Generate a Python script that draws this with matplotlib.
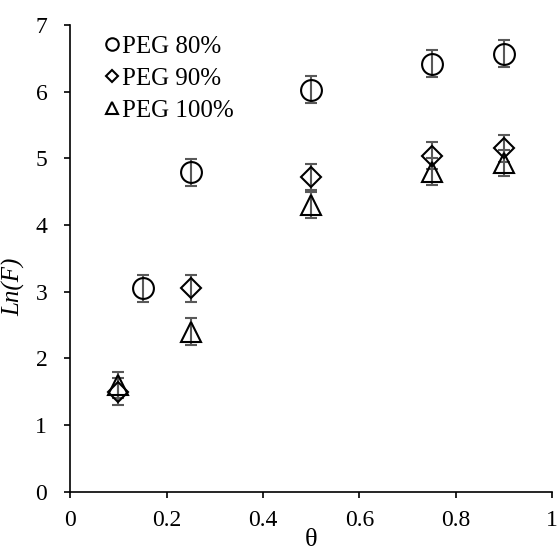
import matplotlib
matplotlib.use("Agg")
import matplotlib.pyplot as plt
from matplotlib import font_manager

# pick a Times-like serif that is installed
installed = {f.name for f in font_manager.fontManager.ttflist}
serif = next((n for n in ["Liberation Serif", "Tinos", "Times New Roman", "Nimbus Roman",
                          "TeX Gyre Termes", "DejaVu Serif"] if n in installed), "DejaVu Serif")
plt.rcParams["font.family"] = [serif, "DejaVu Serif"]

# data
theta_80 = [0.15, 0.25, 0.5, 0.75, 0.9]
lnf_80 = [3.05, 4.79, 6.03, 6.42, 6.57]
err_80 = [0.2, 0.2, 0.2, 0.2, 0.2]

theta_90 = [0.1, 0.25, 0.5, 0.75, 0.9]
lnf_90 = [1.5, 3.05, 4.72, 5.04, 5.15]
err_90 = [0.2, 0.2, 0.2, 0.2, 0.2]

theta_100 = [0.1, 0.25, 0.5, 0.75, 0.9]
lnf_100 = [1.6, 2.4, 4.3, 4.8, 4.93]
err_100 = [0.2, 0.2, 0.2, 0.2, 0.2]

labels = ["PEG 80%", "PEG 90%", "PEG 100%"]

fig = plt.figure(figsize=(5.57, 5.54), dpi=100)
ax = fig.add_axes([0.126, 0.1125, 0.8656, 0.8424])

series = [
    (theta_80, lnf_80, err_80, "o", 15),
    (theta_90, lnf_90, err_90, "D", 10.5),
    (theta_100, lnf_100, err_100, "^", 15),
]
handles = []
for (x, y, e, m, ms), lab in zip(series, labels):
    ax.errorbar(x, y, yerr=e, fmt="none", ecolor="#595959", elinewidth=1.5,
                capsize=4.3, capthick=1.5, zorder=2)
    h, = ax.plot(x, y, linestyle="none", marker=m, markersize=ms,
                 markerfacecolor="none", markeredgecolor="black",
                 markeredgewidth=1.5, zorder=3, label=lab)
    handles.append(h)

leg = ax.legend(handles=handles, loc="upper left", bbox_to_anchor=(0.04, 1.01),
                frameon=False, fontsize=18, handlelength=0.6, handletextpad=0.1,
                labelspacing=0.38, borderaxespad=0.2, markerscale=0.6)

ax.set_xlim(0, 1)
ax.set_ylim(0, 7)
ax.set_xticks([0, 0.2, 0.4, 0.6, 0.8, 1])
ax.set_xticklabels(["0", "0.2", "0.4", "0.6", "0.8", "1"])
ax.set_yticks(range(8))

for s in ["top", "right"]:
    ax.spines[s].set_visible(False)
for s in ["left", "bottom"]:
    ax.spines[s].set_linewidth(1.2)
ax.tick_params(direction="out", length=4.5, width=1.2, labelsize=17)
ax.tick_params(axis="x", pad=9)
ax.tick_params(axis="y", pad=12)

ax.set_xlabel("θ", fontsize=19, labelpad=-2)
ax.set_ylabel("Ln(F)", fontsize=18, fontstyle="italic")
ax.yaxis.set_label_coords(-0.094, 0.44)

fig.savefig("out.png", dpi=100)
